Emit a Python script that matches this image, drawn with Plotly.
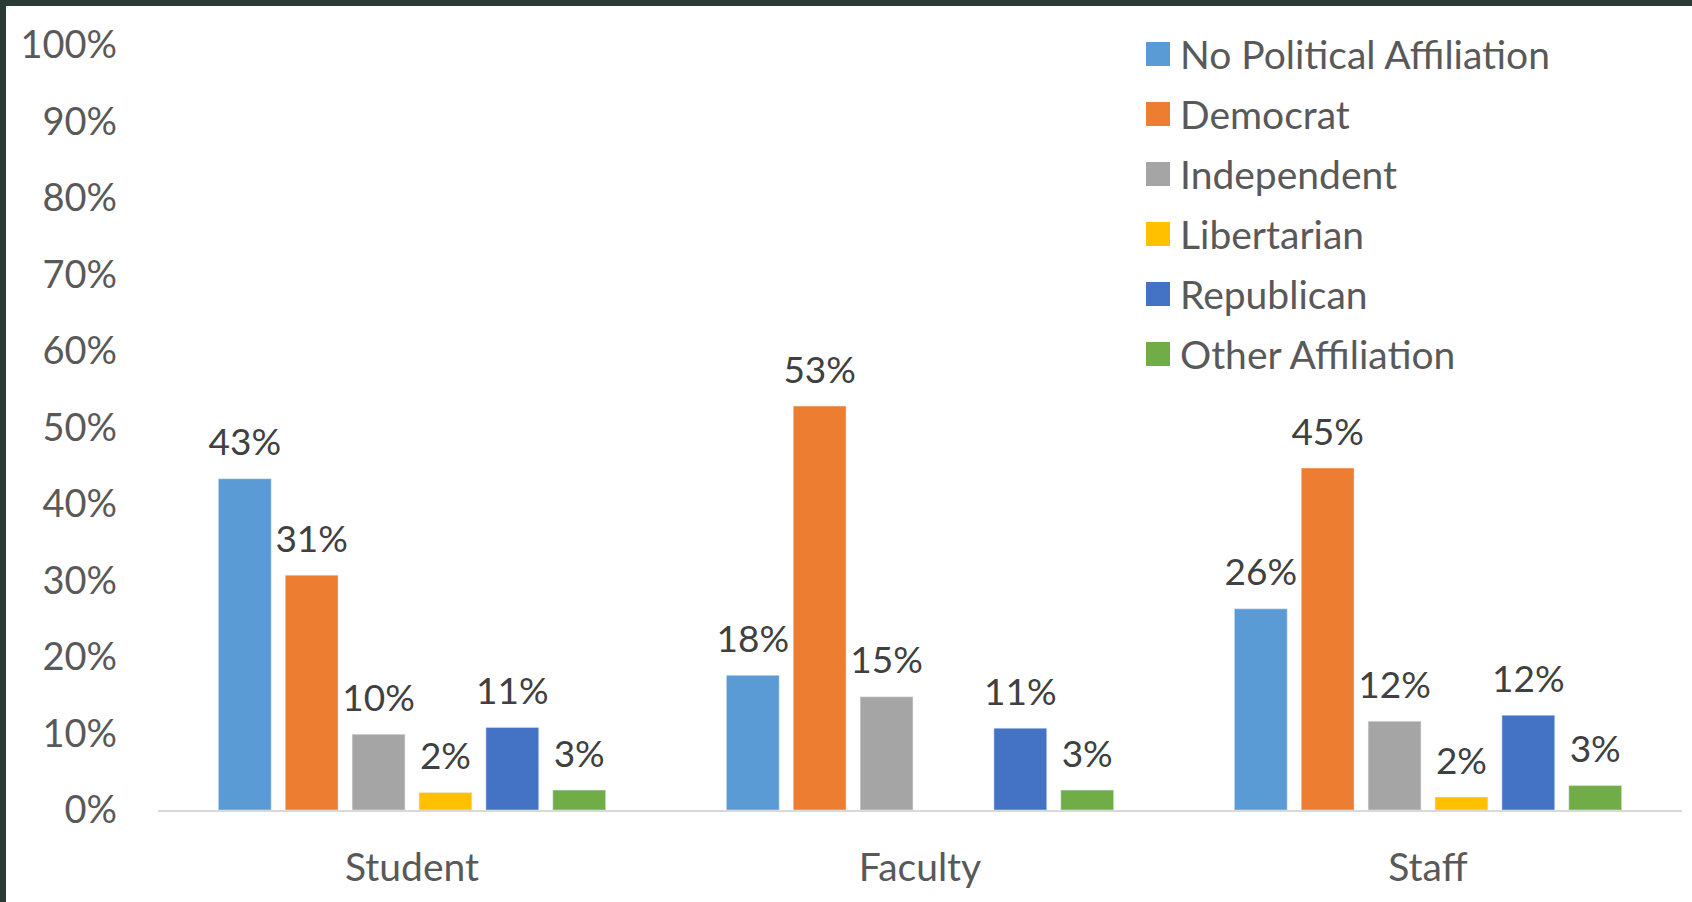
import plotly.graph_objects as go

# dados
grupos = ["Student", "Faculty", "Staff"]
series = ["No Political Affiliation", "Democrat", "Independent",
          "Libertarian", "Republican", "Other Affiliation"]
sem_afiliacao = [43.3, 17.6, 26.3]
democrata = [30.7, 52.8, 44.7]
independente = [9.9, 14.8, 11.6]
libertario = [2.3, None, 1.7]
republicano = [10.8, 10.7, 12.4]
outra = [2.6, 2.6, 3.2]
valores = [sem_afiliacao, democrata, independente, libertario, republicano, outra]
cores = ["#5B9BD5", "#ED7D31", "#A5A5A5", "#FFC000", "#4472C4", "#70AD47"]
ticks_y = [0, 10, 20, 30, 40, 50, 60, 70, 80, 90, 100]

W, H = 1692, 902
L, R, T, B = 158, 10, 45, 92
pw, ph = W - L - R, H - T - B
fonte = "Lato"

fig = go.Figure()
for nome, v, c in zip(series, valores, cores):
    fig.add_trace(go.Bar(x=grupos, y=v, name=nome, marker_color=c,
                         showlegend=False, hoverinfo="skip"))
# rótulos dos valores (scatter agrupado, para afastar o texto da barra)
for nome, v in zip(series, valores):
    fig.add_trace(go.Scatter(x=grupos, y=v, name=nome, mode="markers+text",
                             marker=dict(size=21, opacity=0),
                             texttemplate="%{y:.0f}%", textposition="top center",
                             textfont=dict(size=37, color="#404040", family=fonte),
                             cliponaxis=False, showlegend=False))

# legenda manual (quadrados maiores como no Excel)
for i, (nome, c) in enumerate(zip(series, cores)):
    yc = 54 + i * 60
    fig.add_shape(type="rect", xref="paper", yref="paper",
                  x0=(1146 - L) / pw, x1=(1170 - L) / pw,
                  y0=(H - B - yc - 12) / ph, y1=(H - B - yc + 12) / ph,
                  fillcolor=c, line_width=0)
    fig.add_annotation(text=nome, xref="paper", yref="paper",
                       x=(1178 - L) / pw, y=(H - B - yc) / ph,
                       xanchor="left", yanchor="middle", showarrow=False,
                       font=dict(size=39, color="#595959", family=fonte))

# borda verde escura (topo e esquerda)
borda = "#2B3A34"
fig.add_shape(type="rect", xref="paper", yref="paper", layer="above",
              x0=-L / pw, x1=(W - L) / pw, y0=(H - B - 6) / ph, y1=(H - B) / ph,
              fillcolor=borda, line_width=0)
fig.add_shape(type="rect", xref="paper", yref="paper", layer="above",
              x0=-L / pw, x1=(6 - L) / pw, y0=-B / ph, y1=(H - B) / ph,
              fillcolor=borda, line_width=0)

fig.update_layout(width=W, height=H, margin=dict(l=L, r=R, t=T, b=B),
                  barmode="group", bargap=0.21, bargroupgap=0.21,
                  scattermode="group", scattergap=0.21,
                  plot_bgcolor="white", paper_bgcolor="white",
                  font=dict(family=fonte, color="#595959", size=39))
fig.update_xaxes(showline=True, linecolor="#D9D9D9", linewidth=2,
                 showgrid=False, ticks="", ticklabelstandoff=22,
                 tickfont=dict(size=39, color="#595959"))
fig.update_yaxes(range=[0, 100], tickvals=ticks_y,
                 ticktext=[f"{t}%" for t in ticks_y],
                 showgrid=False, zeroline=False, showline=False,
                 ticklabelstandoff=40, tickfont=dict(size=38, color="#595959"))

fig.write_html("out.html", config={"displayModeBar": False},
               post_script="document.body.style.margin='0';")
